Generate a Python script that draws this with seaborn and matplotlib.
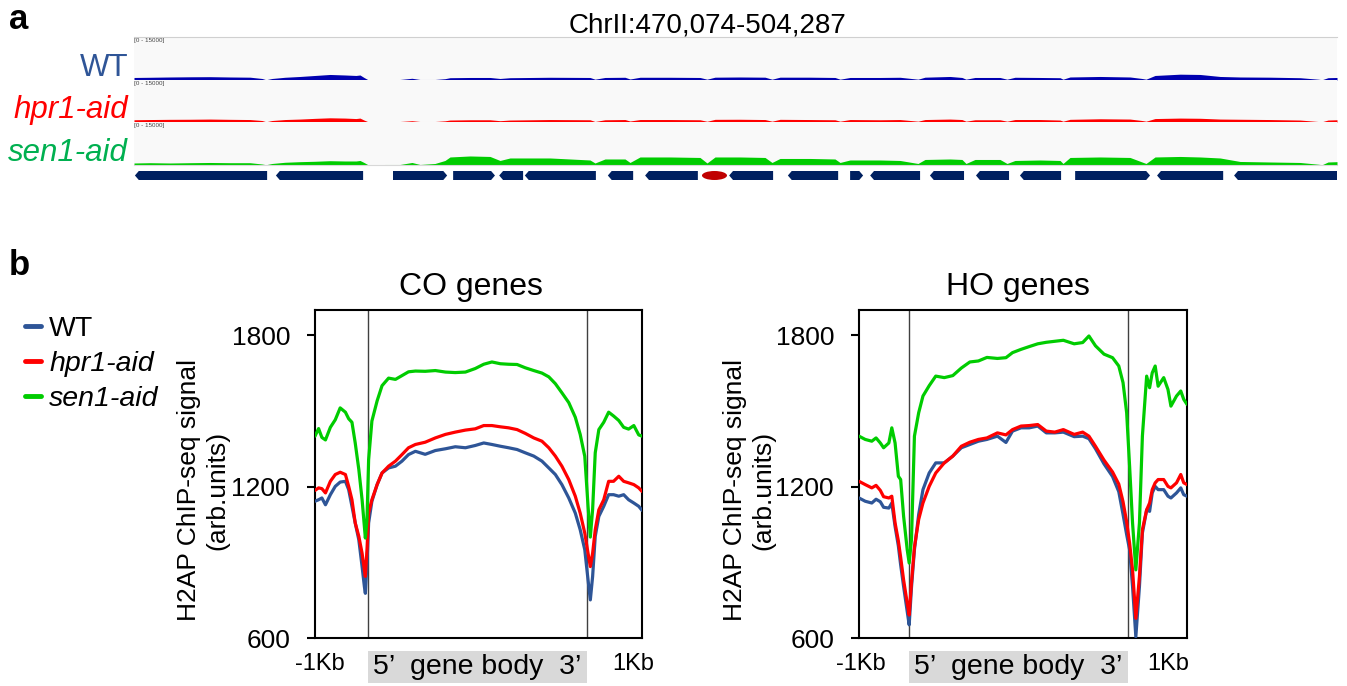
import numpy as np
import pandas as pd
import seaborn as sns
import matplotlib.pyplot as plt
import matplotlib.transforms as mtransforms
from matplotlib.patches import Polygon, Ellipse, Rectangle
from matplotlib.lines import Line2D

W, H = 1347, 686

# ---- panel a: genome browser view, ChrII:470,074-504,287 ----
region = (470074, 504287)
track_pos = [470074, 470529, 471098, 471667, 472235, 472804, 473373, 473714, 473828, 474000,
             474368, 474795, 475222, 475648, 476075, 476388, 476501, 476615, 476729, 477213,
             477639, 477980, 478208, 478634, 478919, 479061, 479630, 480199, 480483, 480767,
             481905, 483043, 483185, 483469, 484038, 484180, 484465, 485318, 486171, 486370,
             486598, 487309, 488020, 488219, 488446, 489299, 490010, 490153, 490437, 491290,
             491859, 492371, 492570, 493281, 493622, 493736, 493992, 494703, 494902, 495130,
             495841, 496410, 496495, 496694, 497547, 498400, 498742, 498856, 499112, 499823,
             500392, 500961, 501530, 502383, 503236, 503748, 503862, 504032, 504287]
track_wt = [880, 950, 1050, 1120, 1160, 1050, 980, 530, 100, 530,
            950, 1230, 1580, 1930, 1750, 1580, 1750, 880, 100, 100,
            180, 600, 180, 180, 460, 800, 880, 880, 530, 800,
            950, 880, 280, 880, 950, 350, 950, 950, 880, 280,
            980, 1050, 980, 280, 980, 980, 880, 280, 880, 880,
            950, 280, 980, 1230, 880, 280, 880, 880, 280, 950,
            880, 800, 280, 1050, 1230, 1050, 530, 280, 1580, 2030,
            1930, 1230, 1050, 980, 800, 280, 100, 800, 880]
track_hpr1 = [800, 880, 950, 980, 1050, 950, 880, 530, 100, 530,
              880, 1050, 1300, 1500, 1400, 1230, 1400, 700, 100, 100,
              180, 460, 180, 180, 420, 700, 800, 800, 460, 700,
              880, 800, 180, 800, 880, 350, 880, 880, 800, 250,
              950, 980, 880, 280, 950, 880, 800, 280, 880, 800,
              880, 280, 880, 1050, 880, 280, 800, 800, 280, 880,
              880, 700, 280, 950, 1160, 1050, 530, 280, 1230, 1400,
              1330, 1050, 980, 880, 700, 180, 100, 700, 800]
track_sen1 = [700, 800, 700, 800, 880, 800, 800, 350, 100, 530,
              950, 1160, 1300, 1500, 1400, 1400, 1580, 880, 100, 180,
              180, 880, 180, 530, 1580, 2800, 3150, 2980, 1580, 2450,
              2450, 1750, 700, 2100, 2100, 880, 2800, 2800, 2630, 700,
              2800, 2800, 2630, 880, 2280, 2280, 2100, 880, 1750, 1750,
              1580, 530, 1930, 2100, 1930, 530, 1930, 1930, 530, 1580,
              1750, 1580, 530, 2630, 2800, 2630, 1050, 530, 2800, 2980,
              2800, 2450, 1230, 1050, 880, 280, 100, 1050, 1160]
track_names = ['WT', 'hpr1-aid', 'sen1-aid']
track_fill = ['#0000B0', '#FF0000', '#00CC00']
label_colors = ['#2F5597', '#FF0000', '#00B050']

gene_start = [470100, 474110, 477440, 479150, 480460, 481190, 483550, 484610, 487000,
              488670, 490440, 491010, 492710, 494020, 495270, 496840, 499170, 501360]
gene_end = [473860, 476590, 478980, 480340, 481140, 483210, 484270, 486110, 488250,
            490100, 490810, 492430, 493680, 494960, 496440, 498970, 501050, 504287]
gene_strand = ['-', '-', '+', '+', '-', '-', '-', '-', '-',
               '-', '+', '-', '-', '-', '-', '+', '-', '-']
cen_center = 486583
cen_width = 711

# ---- panel b: metagene profiles (-1Kb | scaled gene body | +1Kb) ----
strains = ['WT', 'hpr1-aid', 'sen1-aid']
line_colors = ['#2E5597', '#FF0000', '#00CC00']

co_pos = [0, 1.1, 2.1, 3.2, 4.7, 6.2, 7.7, 9.3, 10.3, 11.3,
          12.3, 13.4, 14.4, 15.1, 15.4, 15.9, 16.4, 17.4, 19.0, 20.5,
          22.5, 24.6, 26.6, 28.6, 30.7, 33.7, 36.8, 39.9, 42.9, 46.0,
          49.0, 51.6, 54.1, 56.7, 59.2, 61.8, 64.3, 66.9, 69.4, 71.5,
          73.5, 75.5, 77.6, 79.6, 81.1, 82.5, 83.5, 84.2, 84.9, 85.7,
          86.8, 88.3, 89.8, 91.3, 92.9, 94.4, 95.9, 97.5, 99.0, 100]
co_wt = [1142, 1148, 1155, 1128, 1168, 1201, 1218, 1221, 1188, 1122,
         1056, 989, 883, 804, 777, 897, 1056, 1142, 1208, 1254,
         1274, 1281, 1301, 1327, 1340, 1328, 1343, 1350, 1358, 1354,
         1363, 1373, 1367, 1360, 1354, 1347, 1334, 1321, 1301, 1274,
         1248, 1208, 1155, 1095, 1029, 950, 830, 751, 844, 1003,
         1082, 1122, 1168, 1168, 1162, 1168, 1148, 1135, 1122, 1106]
co_hpr1 = [1185, 1195, 1192, 1175, 1221, 1248, 1257, 1248, 1201, 1148,
           1056, 1003, 936, 870, 844, 950, 1095, 1148, 1208, 1254,
           1281, 1301, 1327, 1354, 1367, 1376, 1393, 1407, 1416, 1424,
           1429, 1442, 1442, 1437, 1433, 1426, 1411, 1393, 1380, 1354,
           1321, 1281, 1228, 1162, 1095, 1016, 936, 883, 936, 1029,
           1108, 1148, 1221, 1221, 1241, 1221, 1215, 1208, 1195, 1181]
co_sen1 = [1400, 1430, 1395, 1385, 1435, 1465, 1512, 1495, 1469, 1455,
           1373, 1268, 1148, 1042, 996, 1069, 1307, 1460, 1540, 1600,
           1630, 1625, 1640, 1655, 1658, 1657, 1660, 1654, 1652, 1654,
           1668, 1685, 1694, 1687, 1685, 1684, 1671, 1660, 1650, 1635,
           1608, 1572, 1533, 1475, 1407, 1320, 1122, 1000, 1110, 1334,
           1426, 1455, 1495, 1480, 1462, 1435, 1428, 1442, 1405, 1400]
co_tss, co_tes = 16.2, 83.3

ho_pos = [0, 1.9, 3.9, 5.2, 6.5, 7.5, 9.1, 10.0, 11.0, 12.0,
          12.7, 13.6, 14.7, 15.3, 16.0, 16.9, 18.2, 19.5, 21.4, 23.4,
          26.0, 28.6, 31.2, 33.8, 36.4, 39.0, 42.2, 44.8, 46.8, 49.4,
          51.9, 54.5, 57.1, 59.7, 62.3, 65.6, 68.2, 70.1, 72.1, 74.7,
          77.3, 79.2, 80.5, 81.6, 82.5, 83.4, 84.4, 85.5, 86.4, 87.7,
          88.6, 89.4, 90.3, 91.2, 92.9, 94.2, 95.1, 96.8, 98.1, 99.0, 100]
ho_wt = [1155, 1142, 1135, 1150, 1140, 1118, 1115, 1135, 1042, 965,
         890, 804, 705, 652, 800, 950, 1090, 1188, 1254, 1294,
         1294, 1321, 1354, 1367, 1380, 1387, 1400, 1375, 1420, 1433,
         1433, 1440, 1413, 1413, 1416, 1398, 1400, 1390, 1350, 1290,
         1240, 1180, 1090, 1010, 950, 804, 605, 804, 1016, 1108,
         1102, 1175, 1201, 1188, 1188, 1162, 1155, 1175, 1195, 1168, 1162]
ho_hpr1 = [1221, 1208, 1195, 1205, 1185, 1160, 1155, 1162, 1056, 985,
           920, 830, 738, 691, 820, 960, 1070, 1135, 1201, 1254,
           1294, 1321, 1360, 1376, 1387, 1393, 1413, 1405, 1426, 1440,
           1442, 1446, 1420, 1416, 1426, 1407, 1416, 1400, 1360, 1305,
           1258, 1210, 1140, 1060, 976, 870, 678, 844, 1029, 1108,
           1135, 1188, 1215, 1228, 1228, 1201, 1195, 1215, 1248, 1215, 1208]
ho_sen1 = [1400, 1387, 1380, 1393, 1373, 1354, 1373, 1433, 1373, 1241,
           1228, 1082, 950, 897, 990, 1400, 1493, 1559, 1600, 1638,
           1632, 1640, 1670, 1694, 1698, 1712, 1708, 1711, 1731, 1744,
           1755, 1766, 1772, 1776, 1780, 1766, 1771, 1797, 1758, 1725,
           1711, 1678, 1612, 1493, 1281, 1056, 870, 1056, 1400, 1638,
           1592, 1651, 1678, 1598, 1632, 1585, 1519, 1559, 1579, 1546, 1526]
ho_tss, ho_tes = 15.2, 82.1

sns.set_style('white')
plt.rcParams['font.family'] = ['Liberation Sans', 'DejaVu Sans']
plt.rcParams['text.color'] = 'black'
plt.rcParams['axes.labelcolor'] = 'black'
plt.rcParams['xtick.color'] = 'black'
plt.rcParams['ytick.color'] = 'black'

fig = plt.figure(figsize=(W / 100, H / 100), dpi=100)


def px_axes(x0, y0, x1, y1):
    return fig.add_axes([x0 / W, 1 - y1 / H, (x1 - x0) / W, (y1 - y0) / H])


# panel a
fig.text(9 / W, 1 - 29 / H, 'a', fontsize=25, fontweight='bold', va='baseline')
fig.text(708 / W, 1 - 33 / H, 'ChrII:470,074-504,287', fontsize=20,
         ha='center', va='baseline')

rows = [(37, 80), (80, 122), (122, 165)]
for i, ((y0, y1), vals) in enumerate(zip(rows, [track_wt, track_hpr1, track_sen1])):
    ax = px_axes(134, y0, 1337, y1)
    ax.set_facecolor('#F9F9F9')
    ax.fill_between(track_pos, 0, vals, color=track_fill[i], lw=0)
    ax.set_xlim(region)
    ax.set_ylim(0, 15000)
    ax.set_xticks([])
    ax.set_yticks([])
    for s in ax.spines.values():
        s.set_visible(False)
    if i == 0:
        ax.spines['top'].set_visible(True)
        ax.spines['top'].set_color('#D0D0D0')
    if i == 2:
        ax.spines['bottom'].set_visible(True)
        ax.spines['bottom'].set_color('#D8D8D8')
    ax.text(0.0, 0.97, '[0 - 15000]', transform=ax.transAxes, fontsize=4.5,
            va='top', ha='left', color='#444444')
    fig.text(128 / W, 1 - (y1 - 4) / H, track_names[i], ha='right', va='baseline',
             fontsize=22.5, color=label_colors[i],
             style='normal' if i == 0 else 'italic')

gax = px_axes(134, 171, 1337, 180)
gax.set_xlim(region)
gax.set_ylim(0, 1)
gax.axis('off')
tip = 110
for s, e, st in zip(gene_start, gene_end, gene_strand):
    if st == '+':
        pts = [(s, 0), (s, 1), (e - tip, 1), (e, 0.5), (e - tip, 0)]
    else:
        pts = [(s, 0.5), (s + tip, 1), (e, 1), (e, 0), (s + tip, 0)]
    gax.add_patch(Polygon(pts, closed=True, color='#002060', lw=0, clip_on=False))
gax.add_patch(Ellipse((cen_center, 0.5), cen_width, 1.0, color='#C00000', lw=0, clip_on=False))

# panel b
fig.text(9 / W, 1 - 275 / H, 'b', fontsize=25, fontweight='bold', va='baseline')


def profile(ax, pos, wt, hpr1, sen1, tss, tes, title, title_x, xt):
    n = len(pos)
    df = pd.DataFrame({'pos': list(pos) * 3,
                       'signal': list(wt) + list(hpr1) + list(sen1),
                       'strain': [strains[0]] * n + [strains[1]] * n + [strains[2]] * n})
    ax.axvline(tss, color='#404040', lw=1, zorder=1)
    ax.axvline(tes, color='#404040', lw=1, zorder=1)
    sns.lineplot(data=df, x='pos', y='signal', hue='strain', hue_order=strains,
                 palette=line_colors, lw=2.3, ax=ax, legend=False, zorder=3)
    ax.set_xlim(0, 100)
    ax.set_ylim(600, 1900)
    ax.set_yticks([600, 1200, 1800])
    ax.set_xticks(xt)
    ax.set_xticklabels(['-1Kb', '1Kb'])
    ax.tick_params(axis='y', left=True, length=6, width=1.5, pad=12, labelsize=19)
    ax.tick_params(axis='x', length=0, pad=11, labelsize=17)
    for s in ax.spines.values():
        s.set_visible(True)
        s.set_color('black')
        s.set_linewidth(1.5)
    ax.set_xlabel('')
    ax.set_ylabel('')
    ax.set_title(title, fontsize=23, pad=11, x=title_x)
    trans = mtransforms.blended_transform_factory(ax.transData, ax.transAxes)
    ax.add_patch(Rectangle((tss, -0.137), tes - tss, 0.097, transform=trans,
                           color='#D9D9D9', lw=0, clip_on=False))
    ax.text((tss + tes) / 2, -0.088, '5\u2019  gene body  3\u2019', transform=trans,
            ha='center', va='center', fontsize=20.5)


ax_co = px_axes(315, 310, 642, 638)
profile(ax_co, co_pos, co_wt, co_hpr1, co_sen1, co_tss, co_tes, 'CO genes', 0.477, [1.5, 97.2])
ax_ho = px_axes(859, 310, 1187, 638)
profile(ax_ho, ho_pos, ho_wt, ho_hpr1, ho_sen1, ho_tss, ho_tes, 'HO genes', 0.485, [0.5, 94.2])

for xc in (203, 749):
    fig.text(xc / W, 1 - 490 / H, 'H2AP ChIP-seq signal\n(arb.units)', rotation=90,
             ha='center', va='center', fontsize=19, multialignment='center',
             linespacing=1.25)

handles = [Line2D([], [], color=c, lw=3.5) for c in line_colors]
leg = fig.legend(handles, strains, loc='center left', bbox_to_anchor=(25 / W, 1 - 364 / H),
                 frameon=False, fontsize=20.5, handlelength=0.55, handletextpad=0.3,
                 labelspacing=0.32, borderpad=0, borderaxespad=0)
for t in leg.get_texts()[1:]:
    t.set_fontstyle('italic')

fig.savefig('out.png', dpi=100)
